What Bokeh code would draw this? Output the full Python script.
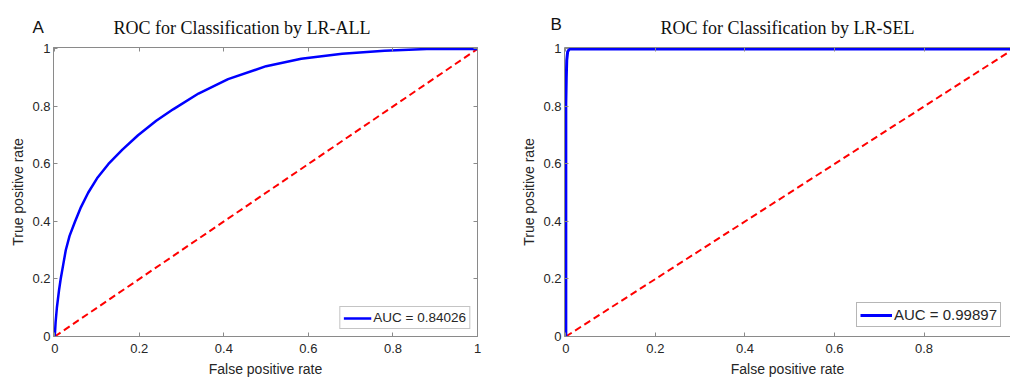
from bokeh.plotting import figure
from bokeh.layouts import row
from bokeh.models import (FixedTicker, LinearAxis, Legend, LegendItem, Title, Range1d,
                          CustomJSTickFormatter)
from bokeh.embed import file_html
from bokeh.resources import INLINE

# ---- data ----
fpr_all = [0, 0.002, 0.005, 0.01, 0.014, 0.02, 0.026, 0.035, 0.048, 0.062, 0.079, 0.1,
           0.127, 0.16, 0.197, 0.24, 0.28, 0.34, 0.41, 0.5, 0.583, 0.68, 0.78, 0.88, 1.0]
tpr_all = [0, 0.05, 0.1, 0.16, 0.2, 0.25, 0.3, 0.35, 0.4, 0.45, 0.5, 0.55,
           0.6, 0.65, 0.7, 0.75, 0.79, 0.845, 0.895, 0.94, 0.966, 0.983, 0.994, 1.0, 1.0]
fpr_sel = [0, 0, 0.001, 0.002, 0.004, 0.008, 0.02, 1.0]
tpr_sel = [0, 0.81, 0.9, 0.96, 0.99, 1.0, 1.0, 1.0]
chance_x = [0, 1]
chance_y = [0, 1]

tick_values = [0, 0.2, 0.4, 0.6, 0.8, 1]
tick_labels = ["0", "0.2", "0.4", "0.6", "0.8", "1"]

titles = ["ROC for Classification by LR-ALL", "ROC for Classification by LR-SEL"]
letters = ["A", "B"]
auc_labels = ["AUC = 0.84026", "AUC = 0.99897"]
x_label = "False positive rate"
y_label = "True positive rate"

AX = "#8a8a8a"
TXT = "#262626"
SANS = "Liberation Sans"
SERIF = "Liberation Serif"
overrides = {v: l for v, l in zip(tick_values, tick_labels)}


def style_axis(ax, show_labels=True):
    ax.ticker = FixedTicker(ticks=tick_values)
    ax.minor_tick_line_color = None
    ax.major_tick_in = 4
    ax.major_tick_out = 0
    ax.axis_line_color = AX
    ax.major_tick_line_color = AX
    ax.major_label_text_font = SANS
    ax.major_label_text_color = TXT
    ax.axis_label_text_font = SANS
    ax.axis_label_text_color = TXT
    ax.axis_label_text_font_style = "normal"
    ax.axis_label_text_font_size = "14px"
    ax.major_label_text_font_size = "13px"
    if show_labels:
        ax.major_label_overrides = overrides
    else:
        ax.formatter = CustomJSTickFormatter(code="return ''")
        ax.major_label_standoff = 0


def make_panel(fx, fy, idx, width, x_end, border_left, border_right, right_axis,
               line_w, title_align, title_offset, letter_offset, letter_standoff,
               leg_font, leg_glyph, leg_margin):
    p = figure(width=width, height=380, output_backend="svg", toolbar_location=None,
               x_range=Range1d(-0.003, x_end), y_range=Range1d(0, 1.005),
               min_border_left=border_left, min_border_right=border_right,
               min_border_top=47, min_border_bottom=44)
    p.grid.visible = False
    p.background_fill_color = "white"
    p.border_fill_color = "white"
    p.outline_line_color = AX if right_axis else None

    # panel letter as the outermost title, pulled down to the title row
    p.title.text = letters[idx]
    p.title.text_font = SANS
    p.title.text_font_size = "17px"
    p.title.text_font_style = "normal"
    p.title.text_color = "#111111"
    p.title.align = "left"
    p.title.offset = letter_offset
    p.title.standoff = letter_standoff

    for ax in p.xaxis:
        style_axis(ax)
        ax.axis_label = x_label
        ax.major_label_standoff = 7
        ax.axis_label_standoff = 5
    for ax in p.yaxis:
        style_axis(ax)
        ax.axis_label = y_label
        ax.major_label_standoff = 3
        ax.axis_label_standoff = 3

    top = LinearAxis()
    style_axis(top, show_labels=False)
    p.add_layout(top, "above")
    main_title = Title(text=titles[idx], text_font=SERIF, text_font_size="18px",
                       text_font_style="normal", text_color="#111111",
                       align=title_align, offset=title_offset, standoff=20)
    p.add_layout(main_title, "above")
    if right_axis:
        r = LinearAxis()
        style_axis(r, show_labels=False)
        p.add_layout(r, "right")

    p.line(chance_x, chance_y, color="#ff0000", line_width=2, line_dash="7 4")
    roc = p.line(fx, fy, color="#0000ff", line_width=line_w)

    leg = Legend(items=[LegendItem(label=auc_labels[idx], renderers=[roc])],
                 location="bottom_right")
    leg.label_text_font = SANS
    leg.label_text_font_size = leg_font
    leg.label_text_color = TXT
    leg.glyph_width = leg_glyph
    leg.glyph_height = 14
    leg.label_standoff = 2
    leg.padding = 3
    leg.margin = leg_margin
    leg.spacing = 0
    leg.border_line_color = "#6e6e6e" if idx else "#8a8a8a"
    leg.border_line_width = 1.5 if idx else 1
    leg.background_fill_color = "white"
    p.add_layout(leg)
    return p


pA = make_panel(fpr_all, tpr_all, 0, 518, 1.0, 53, 41, True, 2.5, "left", 60, -21, -62,
                "13.5px", 28, 7)
pB = make_panel(fpr_sel, tpr_sel, 1, 492, 0.993, 45, 0, False, 3, "center", 0, -14, -56,
                "15px", 32, 9)

layout = row(pA, pB)
open("out.html", "w").write(file_html(layout, INLINE))
